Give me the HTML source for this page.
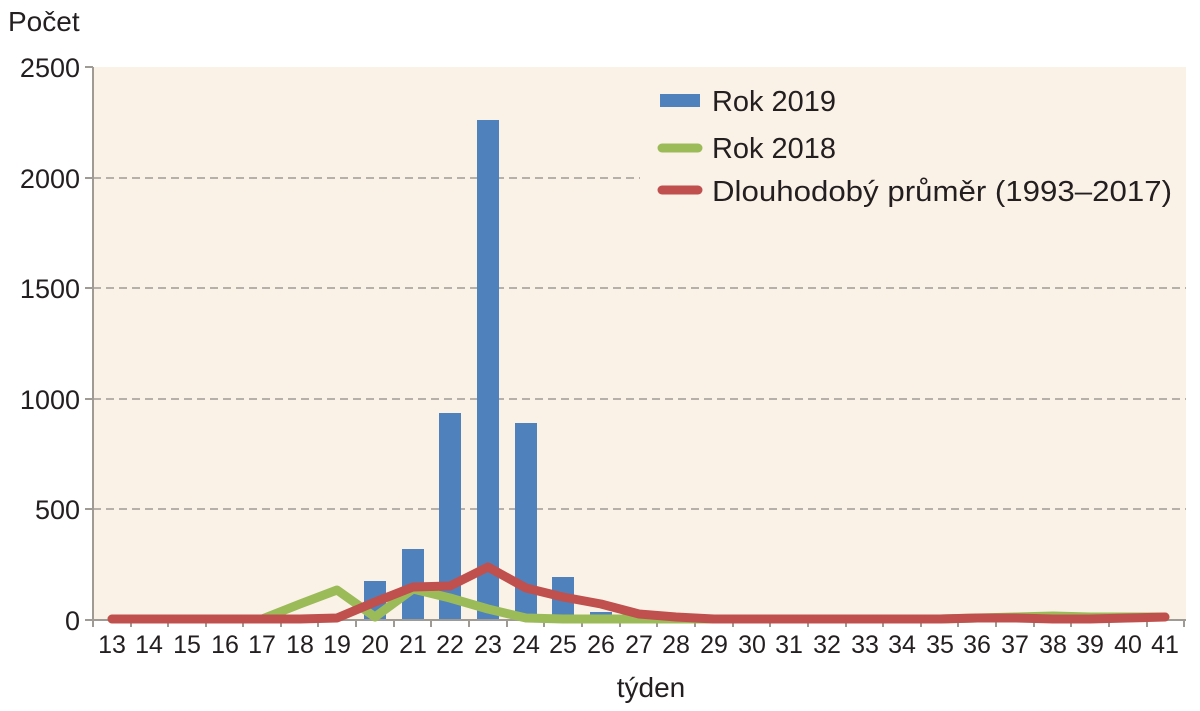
<!DOCTYPE html>
<html><head><meta charset="utf-8"><style>
body{margin:0;background:#fff;}
svg{display:block;font-family:"Liberation Sans",sans-serif;}
</style></head><body>
<svg width="1200" height="711" viewBox="0 0 1200 711">
<rect x="93" y="67" width="1093" height="553" fill="#fbf2e7"/>
<g stroke="#a09a95" stroke-width="1.5" stroke-dasharray="8,5">
<line x1="93" y1="178" x2="640" y2="178"/>
<line x1="93" y1="288" x2="1186" y2="288"/>
<line x1="93" y1="399" x2="1186" y2="399"/>
<line x1="93" y1="509" x2="1186" y2="509"/>
</g>
<g fill="#4f81bd">
<rect x="364" y="581" width="22" height="39"/>
<rect x="402" y="549" width="22" height="71"/>
<rect x="439" y="413" width="22" height="207"/>
<rect x="477" y="120" width="22" height="500"/>
<rect x="515" y="423" width="22" height="197"/>
<rect x="552" y="577" width="22" height="43"/>
<rect x="590" y="612" width="22" height="8"/>
</g>
<g stroke="#a09a95" stroke-width="2" fill="none">
<line x1="93" y1="67" x2="93" y2="620"/>
<line x1="85" y1="67" x2="93" y2="67"/>
<line x1="85" y1="178" x2="93" y2="178"/>
<line x1="85" y1="288" x2="93" y2="288"/>
<line x1="85" y1="399" x2="93" y2="399"/>
<line x1="85" y1="509" x2="93" y2="509"/>
<line x1="85" y1="620" x2="1186" y2="620"/>
<path d="M93,620v7M131,620v7M168,620v7M206,620v7M243,620v7M281,620v7M318,620v7M356,620v7M394,620v7M431,620v7M469,620v7M507,620v7M544,620v7M582,620v7M620,620v7M657,620v7M695,620v7M733,620v7M770,620v7M808,620v7M846,620v7M883,620v7M921,620v7M958,620v7M996,620v7M1034,620v7M1071,620v7M1109,620v7M1147,620v7M1184,620v7"/>
</g>
<polyline fill="none" stroke="#9bbb59" stroke-width="9" stroke-linejoin="round" stroke-linecap="round" points="112,619 149,619 187,619 225,619 262,619 300,604 337,590 375,617 413,589 450,598 488,609 526,618 563,619 601,619 639,619 676,619 714,619 752,619 789,619 827,619 865,619 902,619 940,619 977,618 1015,617 1053,616 1090,617 1128,617 1165,617"/>
<polyline fill="none" stroke="#c0504d" stroke-width="9" stroke-linejoin="round" stroke-linecap="round" points="112,619 149,619 187,619 225,619 262,619 300,619 337,618 375,602 413,587 450,586 488,567 526,588 563,597 601,604 639,614 676,617 714,619 752,619 789,619 827,619 865,619 902,619 940,619 977,618 1015,618 1053,619 1090,619 1128,618 1165,617"/>
<g fill="#231f20" font-size="27" text-anchor="end">
<text x="80" y="77">2500</text>
<text x="80" y="188">2000</text>
<text x="80" y="298">1500</text>
<text x="80" y="409">1000</text>
<text x="80" y="519">500</text>
<text x="80" y="630">0</text>
</g>
<text x="8" y="31" font-size="28" fill="#231f20">Počet</text>
<g fill="#231f20" font-size="25" text-anchor="middle">
<text x="112" y="653">13</text><text x="149" y="653">14</text><text x="187" y="653">15</text><text x="225" y="653">16</text><text x="262" y="653">17</text><text x="300" y="653">18</text><text x="337" y="653">19</text><text x="375" y="653">20</text><text x="413" y="653">21</text><text x="450" y="653">22</text><text x="488" y="653">23</text><text x="526" y="653">24</text><text x="563" y="653">25</text><text x="601" y="653">26</text><text x="639" y="653">27</text><text x="676" y="653">28</text><text x="714" y="653">29</text><text x="752" y="653">30</text><text x="789" y="653">31</text><text x="827" y="653">32</text><text x="865" y="653">33</text><text x="902" y="653">34</text><text x="940" y="653">35</text><text x="977" y="653">36</text><text x="1015" y="653">37</text><text x="1053" y="653">38</text><text x="1090" y="653">39</text><text x="1128" y="653">40</text><text x="1165" y="653">41</text>
<text x="651" y="697" font-size="28">týden</text>
</g>
<rect x="660" y="94" width="40" height="13" fill="#4f81bd"/>
<line x1="662" y1="148" x2="698" y2="148" stroke="#9bbb59" stroke-width="9" stroke-linecap="round"/>
<line x1="662" y1="190" x2="698" y2="190" stroke="#c0504d" stroke-width="9" stroke-linecap="round"/>
<g fill="#231f20" font-size="29">
<text x="712" y="111" textLength="124" lengthAdjust="spacingAndGlyphs">Rok 2019</text>
<text x="712" y="158" textLength="124" lengthAdjust="spacingAndGlyphs">Rok 2018</text>
<text x="712" y="201" textLength="460" lengthAdjust="spacingAndGlyphs">Dlouhodobý průměr (1993–2017)</text>
</g>
</svg>
</body></html>
